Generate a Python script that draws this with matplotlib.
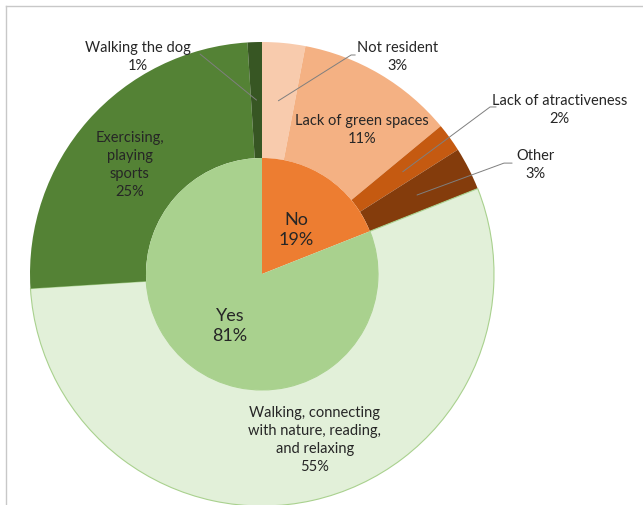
import matplotlib.pyplot as plt
from matplotlib.lines import Line2D
import numpy as np

plt.rcParams['font.family'] = ['Lato', 'DejaVu Sans']

# inner pie
inner_labels = ['No', 'Yes']
inner_vals = [19, 81]
inner_colors = ['#ED7D31', '#A9D18E']

# outer ring (clockwise from 12 o'clock)
outer_labels = ['Not resident', 'Lack of green spaces', 'Lack of atractiveness', 'Other',
                'Walking, connecting\nwith nature, reading,\nand relaxing',
                'Exercising,\nplaying\nsports', 'Walking the dog']
outer_vals = [3, 11, 2, 3, 55, 25, 1]
outer_colors = ['#F8CBAD', '#F4B183', '#C55A11', '#843C0C', '#E2F0D9', '#548235', '#375623']

fig = plt.figure(figsize=(6.43, 5.06), dpi=100)
ax = fig.add_axes([30/643, -1/506, 464/643, 464/506])

wo, _ = ax.pie(outer_vals, radius=1, startangle=90, counterclock=False,
               colors=outer_colors, wedgeprops=dict(width=0.5, linewidth=0))
wo[4].set_edgecolor('#A9D18E')
wo[4].set_linewidth(0.8)
wi, _ = ax.pie(inner_vals, radius=0.5, startangle=90, counterclock=False,
               colors=inner_colors, wedgeprops=dict(linewidth=0))
ax.set_xlim(-1, 1)
ax.set_ylim(-1, 1)
ax.axis('off')

tc = '#262626'
# label positions (layout only) and whether a leader line is drawn
pos = [(0.586, 0.94, True), (0.431, 0.625, False), (1.284, 0.711, True), (1.177, 0.474, True),
       (0.228, -0.711, False), (-0.569, 0.474, False), (-0.534, 0.94, True)]
# (tick start, elbow corner) of each leader line
line_pts = {0: ((0.402, 0.944), (0.384, 0.944)),
            2: ((1.009, 0.72), (0.983, 0.72)),
            3: ((1.078, 0.478), (1.043, 0.478)),
            6: ((-0.267, 0.948), (-0.267, 0.948))}
cum = np.cumsum([0] + outer_vals)
tot = float(sum(outer_vals))
for i, (lab, v) in enumerate(zip(outer_labels, outer_vals)):
    x, y, lead = pos[i]
    ax.text(x, y, f"{lab}\n{v}%", ha='center', va='center', fontsize=10.5,
            color=tc, linespacing=1.35)
    if lead:
        mid = (cum[i] + v / 2) / tot * 2 * np.pi
        px, py = 0.75 * np.sin(mid), 0.75 * np.cos(mid)
        (sx, sy), (cx, cy) = line_pts[i]
        th = np.degrees(np.arctan2(cy - py, cx - px))
        ax.annotate('', xy=(px, py), xytext=(sx, sy),
                    arrowprops=dict(arrowstyle='-', color='#7f7f7f', lw=0.7,
                                    shrinkA=0, shrinkB=0,
                                    connectionstyle=f"angle,angleA=0,angleB={th:.2f},rad=0"))

ax.text(0.147, 0.194, f"{inner_labels[0]}\n{inner_vals[0]}%", ha='center', va='center',
        fontsize=13, color=tc, linespacing=1.3)
ax.text(-0.138, -0.22, f"{inner_labels[1]}\n{inner_vals[1]}%", ha='center', va='center',
        fontsize=13, color=tc, linespacing=1.3)

# frame lines
fig.add_artist(Line2D([6/643, 1], [1 - 7/506, 1 - 7/506], transform=fig.transFigure,
                      color='#c8c8c8', lw=1))
fig.add_artist(Line2D([6/643, 6/643], [0, 1 - 7/506], transform=fig.transFigure,
                      color='#c8c8c8', lw=1))

fig.savefig('out.png', dpi=100)
